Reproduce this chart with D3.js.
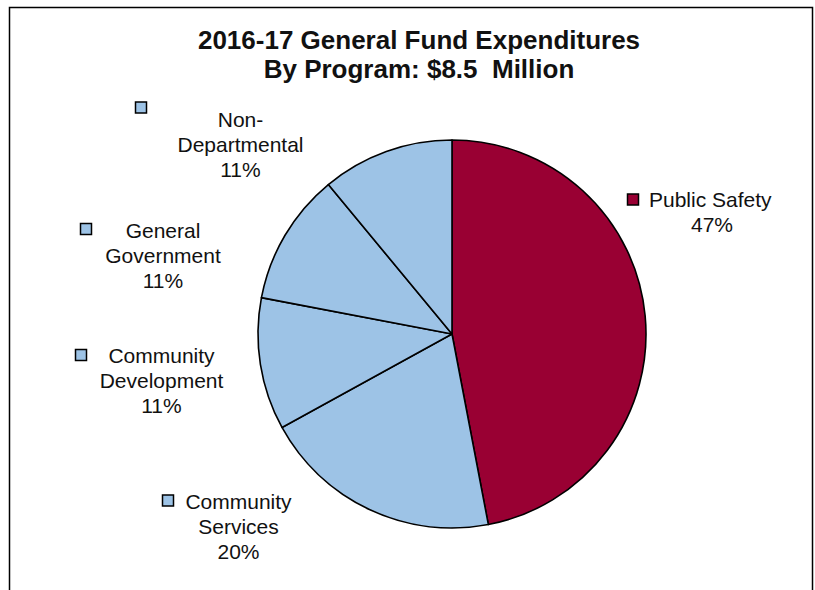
<!DOCTYPE html>
<html>
<head>
<meta charset="utf-8">
<script src="https://cdn.jsdelivr.net/npm/d3@7"></script>
<style>
  html, body { margin: 0; padding: 0; background: #ffffff; }
  svg { display: block; }
  text { font-family: "Liberation Sans", Arial, sans-serif; fill: #111; }
</style>
</head>
<body>
<script>
// Program categories and their share of General Fund spending (percent)
const programs = ["Public Safety", "Community Services", "Community Development", "General Government", "Non-Departmental"];
const shares = [47, 20, 11, 11, 11];
// Label lines as printed beside each slice
const labelLines = [
  ["Public Safety"],
  ["Community", "Services"],
  ["Community", "Development"],
  ["General", "Government"],
  ["Non-", "Departmental"]
];
const titleLines = ["2016-17 General Fund Expenditures", "By Program: $8.5  Million"];

// Layout
const W = 815, H = 590;
const cx = 452, cy = 334, R = 194;
const fills = ["#990033", "#9dc3e6", "#9dc3e6", "#9dc3e6", "#9dc3e6"];
const lineH = 25;
// Label placement: text centre x, first baseline y, key square top-left; Public Safety's first line is left-anchored
const labelLayout = [
  { tx: 712, ty: 207, kx: 627.5, ky: 194, firstStart: 649 },
  { tx: 238.5, ty: 509, kx: 162.5, ky: 495 },
  { tx: 161.5, ty: 363, kx: 75.5, ky: 349.5 },
  { tx: 163, ty: 238, kx: 80.5, ky: 223.5 },
  { tx: 240.5, ty: 127, kx: 135.5, ky: 102 }
];

const svg = d3.select("body").append("svg").attr("width", W).attr("height", H);

// Chart frame
svg.append("rect")
  .attr("x", 9.5).attr("y", 7.5)
  .attr("width", 803).attr("height", 620)
  .attr("fill", "#fff").attr("stroke", "#000").attr("stroke-width", 1.5);

// Title
svg.append("text")
  .attr("x", 419).attr("y", 49)
  .attr("text-anchor", "middle")
  .style("font-weight", "bold").style("font-size", "26px").style("white-space", "pre")
  .selectAll("tspan").data(titleLines).join("tspan")
  .attr("x", 419).attr("dy", (d, i) => i === 0 ? 0 : 29)
  .text(d => d);

// Pie
const data = programs.map((p, i) => ({ program: p, share: shares[i], i }));
const pie = d3.pie().sort(null).value(d => d.share).startAngle(0).endAngle(2 * Math.PI);
const arc = d3.arc().innerRadius(0).outerRadius(R);

const g = svg.append("g").attr("transform", `translate(${cx},${cy})`);
g.selectAll("path").data(pie(data)).join("path")
  .attr("d", arc)
  .attr("fill", d => fills[d.data.i])
  .attr("stroke", "#000")
  .attr("stroke-width", 1.6)
  .attr("stroke-linejoin", "round");

// Data labels with legend keys
const labels = svg.append("g").selectAll("g").data(data).join("g");

labels.append("rect")
  .attr("x", d => labelLayout[d.i].kx)
  .attr("y", d => labelLayout[d.i].ky)
  .attr("width", 11).attr("height", 11)
  .attr("fill", d => fills[d.i])
  .attr("stroke", "#000").attr("stroke-width", 1.5);

labels.each(function (d) {
  const L = labelLayout[d.i];
  const lines = labelLines[d.i].concat([d3.format(".0f")(d.share) + "%"]);
  const t = d3.select(this).append("text").style("font-size", "21px");
  lines.forEach((ln, k) => {
    const useStart = k === 0 && L.firstStart !== undefined;
    t.append("tspan")
      .attr("x", useStart ? L.firstStart : L.tx)
      .attr("y", L.ty + k * lineH)
      .attr("text-anchor", useStart ? "start" : "middle")
      .text(ln);
  });
});
</script>
</body>
</html>
